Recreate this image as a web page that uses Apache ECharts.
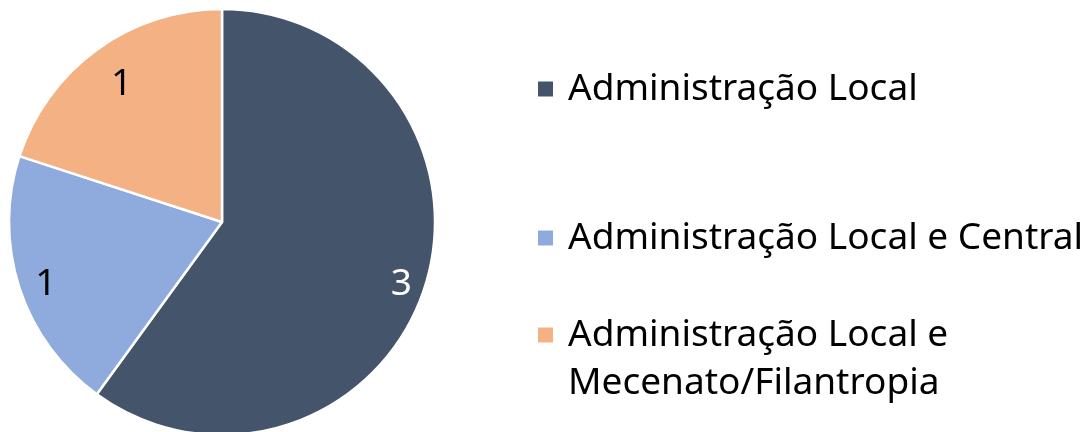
<!DOCTYPE html>
<html>
<head>
<meta charset="utf-8">
<script src="https://cdn.jsdelivr.net/npm/echarts@6/dist/echarts.min.js"></script>
<style>html,body{margin:0;padding:0;background:#fff}#c{width:1087px;height:432px}</style>
</head>
<body>
<div id="c"></div>
<script>
const categories = ['Administração Local', 'Administração Local e Central', 'Administração Local e Mecenato/Filantropia'];
const values = [3, 1, 1];
const colors = ['#44546A', '#8FAADC', '#F4B183'];
const labelColors = ['#FFFFFF', '#000000', '#000000'];

const FONT = 'Noto Sans';
const FS = 37;

const data = categories.map((n, i) => ({ name: n, value: values[i], itemStyle: { color: colors[i] } }));
const labelData = categories.map((n, i) => ({ name: n, value: values[i], label: { color: labelColors[i] } }));

function legendFor(i, top) {
  return {
    orient: 'vertical', left: 536, top: top, padding: 0,
    itemWidth: 17, itemHeight: 17, icon: 'rect', selectedMode: false,
    data: [categories[i]],
    formatter: function (name) {
      if (i === 2) return '\nAdministração Local e\nMecenato/Filantropia';
      return name;
    },
    textStyle: { fontFamily: FONT, fontSize: FS, color: '#000', lineHeight: 48, padding: [0, 0, 0, 9] }
  };
}

const chart = echarts.init(document.getElementById('c'), null, { renderer: 'canvas' });
chart.setOption({
  animation: false,
  legend: [legendFor(0, 65), legendFor(1, 214), legendFor(2, 263)],
  series: [
    {
      type: 'pie', center: [222, 222], radius: [0, 213], startAngle: 90, clockwise: true,
      silent: true, label: { show: false }, labelLine: { show: false },
      itemStyle: { borderColor: '#fff', borderWidth: 2.5 },
      data: data
    },
    {
      type: 'pie', center: [222, 222], radius: [160, 213], startAngle: 90, clockwise: true,
      silent: true, labelLine: { show: false },
      itemStyle: { color: 'rgba(0,0,0,0)', borderWidth: 0 },
      label: { show: true, position: 'inside', formatter: '{c}', fontFamily: FONT, fontSize: FS },
      labelLayout: function (p) {
        if (p.dataIndex === 2) return { dx: 11, dy: 16 };
        if (p.dataIndex === 1) return { dx: 4, dy: 4 };
        return { dx: -1, dy: 4 };
      },
      data: labelData
    }
  ]
});
</script>
</body>
</html>
